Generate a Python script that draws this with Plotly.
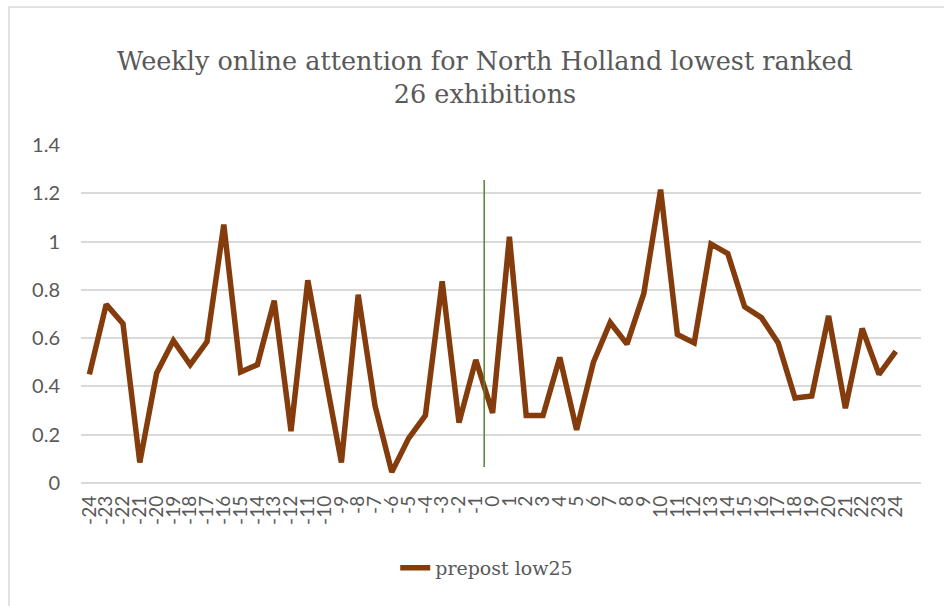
import plotly.graph_objects as go

weeks = list(range(-24, 25))
tick_labels = [str(w) for w in weeks]
values = [0.45, 0.74, 0.66, 0.085, 0.455, 0.59, 0.49, 0.585, 1.07, 0.46,
          0.49, 0.755, 0.215, 0.84, 0.46, 0.085, 0.78, 0.32, 0.045, 0.185,
          0.28, 0.835, 0.25, 0.51, 0.29, 1.02, 0.28, 0.28, 0.52, 0.22,
          0.50, 0.665, 0.575, 0.785, 1.215, 0.615, 0.58, 0.99, 0.95, 0.73,
          0.685, 0.58, 0.352, 0.36, 0.692, 0.31, 0.64, 0.45, 0.545]
series_name = "prepost low25"
marker_x = -0.5
marker_y = [0.066, 1.255]

SERIF = "DejaVu Serif"

fig = go.Figure()
fig.add_trace(go.Scatter(
    x=weeks, y=values, mode="lines", name=series_name,
    line=dict(color="#843C0C", width=5.5, shape="linear"),
))

fig.add_shape(type="line", xref="x", yref="y", x0=marker_x, x1=marker_x,
              y0=marker_y[0], y1=marker_y[1],
              line=dict(color="#548235", width=1.5))

fig.add_shape(type="rect", xref="paper", yref="paper",
              x0=(9 - 81) / 840, x1=(960 - 81) / 840,
              y0=(483 - 640) / 338, y1=(483 - 7) / 338,
              line=dict(color="#d9d9d9", width=1.5), layer="below")

fig.update_layout(
    width=944, height=606,
    margin=dict(l=81, r=23, t=145, b=123),
    paper_bgcolor="white", plot_bgcolor="white",
    title=dict(
        text="Weekly online attention for North Holland lowest ranked<br>26 exhibitions",
        x=485 / 944, xanchor="center", y=1 - 70 / 606, yanchor="middle",
        font=dict(family=SERIF, size=25.5, color="#595959"),
    ),
    showlegend=True,
    legend=dict(orientation="h", x=0.483, xanchor="center",
                y=(483 - 568) / 338, yanchor="middle",
                font=dict(family=SERIF, size=19, color="#595959")),
    xaxis=dict(
        range=[-24.5, 25.5], tickvals=weeks, ticktext=tick_labels,
        tickangle=-90, showgrid=False, zeroline=False, showline=False,
        ticks="", ticklabelstandoff=8,
        tickfont=dict(family="Lato", size=19, color="#595959"),
    ),
    yaxis=dict(
        range=[0, 1.4], dtick=0.2, tick0=0, showgrid=True,
        gridcolor="#d9d9d9", gridwidth=1.5,
        zeroline=True, zerolinecolor="#d9d9d9", zerolinewidth=1.5,
        showline=False, ticks="", ticklabelstandoff=20,
        tickfont=dict(family="Lato", size=20, color="#595959"),
    ),
)

fig.write_html("out.html")
